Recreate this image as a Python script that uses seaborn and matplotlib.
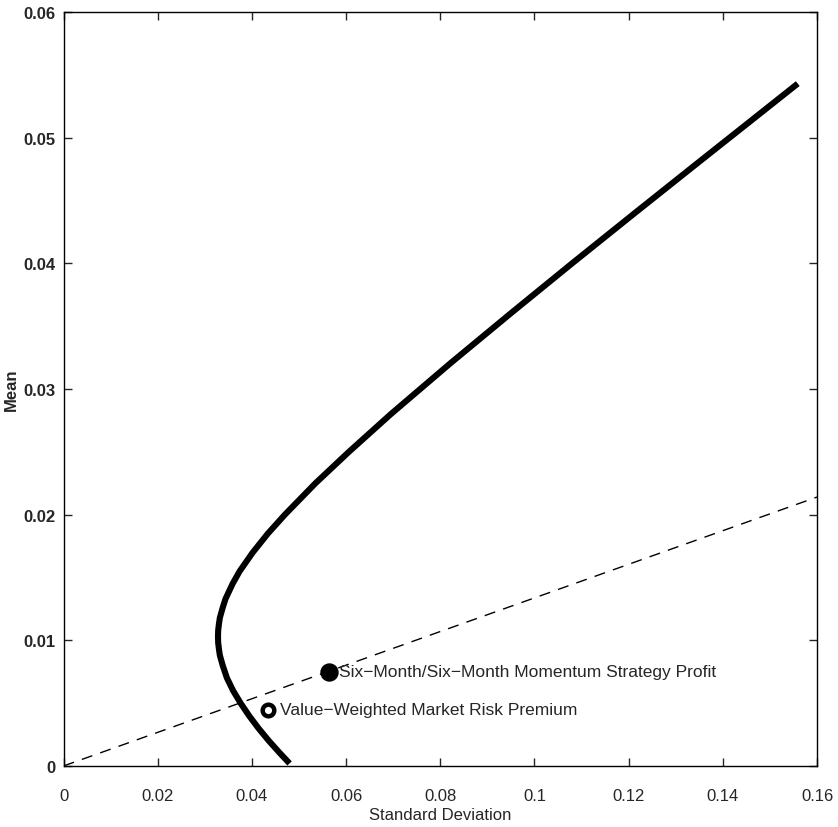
import numpy as np
import pandas as pd
import matplotlib
matplotlib.use("Agg")
import matplotlib.pyplot as plt
import seaborn as sns
from matplotlib.ticker import FuncFormatter

# frontier (std dev, mean)
frontier_mean = [0.0002, 0.0010, 0.0020, 0.0030, 0.0040, 0.0050, 0.0060, 0.0070, 0.0080,
                 0.0088, 0.0093, 0.0098, 0.0103, 0.0108, 0.0113, 0.0118, 0.0126, 0.0133,
                 0.0145, 0.0155, 0.0170, 0.0185, 0.0200, 0.0225, 0.0250, 0.0280, 0.0320,
                 0.0360, 0.0400, 0.0440, 0.0480, 0.0510, 0.0543]
frontier_std = [0.0480, 0.0460, 0.0436, 0.0414, 0.0394, 0.0376, 0.0360, 0.0347, 0.0338,
                0.0332, 0.0330, 0.03284, 0.0328, 0.03284, 0.0330, 0.0332, 0.0338, 0.0344,
                0.0359, 0.0374, 0.0402, 0.0434, 0.0470, 0.0535, 0.0606, 0.0695, 0.0820,
                0.0949, 0.1080, 0.1213, 0.1347, 0.1448, 0.1559]

# dashed line from origin through the momentum point
line_std = [0.0, 0.16]
line_mean = [0.0, 0.0214]

point_labels = ["Six\u2212Month/Six\u2212Month Momentum Strategy Profit",
                "Value\u2212Weighted Market Risk Premium"]
point_std = [0.0563, 0.0434]
point_mean = [0.0075, 0.00446]

xticks = [0, 0.02, 0.04, 0.06, 0.08, 0.1, 0.12, 0.14, 0.16]
yticks = [0, 0.01, 0.02, 0.03, 0.04, 0.05, 0.06]

sns.set_style("ticks")
plt.rcParams['font.family'] = ['Liberation Sans', 'DejaVu Sans']

fig = plt.figure(figsize=(8.38, 8.28), dpi=100)
ax = fig.add_axes([0.0758, 0.0737, 0.8992, 0.9106])

df = pd.DataFrame({"std": frontier_std, "mean": frontier_mean})
sns.lineplot(data=df, x="std", y="mean", sort=False, estimator=None, color="black",
             lw=4.4, solid_capstyle="butt", solid_joinstyle="round", ax=ax)
sns.lineplot(x=line_std, y=line_mean, color="black", lw=1.0, ax=ax,
             estimator=None, linestyle=(0, (8, 6)))

sns.scatterplot(x=point_std[:1], y=point_mean[:1], s=150, color="black",
                edgecolor="black", marker="o", ax=ax, zorder=5)
sns.scatterplot(x=point_std[1:], y=point_mean[1:], s=70, color="white",
                edgecolor="black", linewidth=3.2, marker="o", ax=ax, zorder=5)

ax.text(point_std[0] + 0.0022, point_mean[0], point_labels[0], fontsize=12.5,
        va="center", ha="left")
ax.text(point_std[1] + 0.0026, point_mean[1], point_labels[1], fontsize=12.5,
        va="center", ha="left")

ax.set_xlim(0, 0.16)
ax.set_ylim(0, 0.06)
ax.set_xticks(xticks)
ax.set_yticks(yticks)
fmt = FuncFormatter(lambda v, p: "%g" % v)
ax.xaxis.set_major_formatter(fmt)
ax.yaxis.set_major_formatter(fmt)
ax.tick_params(direction="in", top=True, right=True, length=6, width=1,
               labelsize=12)
ax.tick_params(axis="x", pad=16)
ax.tick_params(axis="y", pad=6)
for lab in ax.get_yticklabels():
    lab.set_fontweight("bold")
for s in ax.spines.values():
    s.set_visible(True)
    s.set_linewidth(1.0)
    s.set_color("black")

ax.set_xlabel("Standard Deviation", fontsize=12, labelpad=3)
ax.set_ylabel("Mean", fontsize=12, fontweight="bold", labelpad=3)

fig.savefig("out.png", dpi=100)
